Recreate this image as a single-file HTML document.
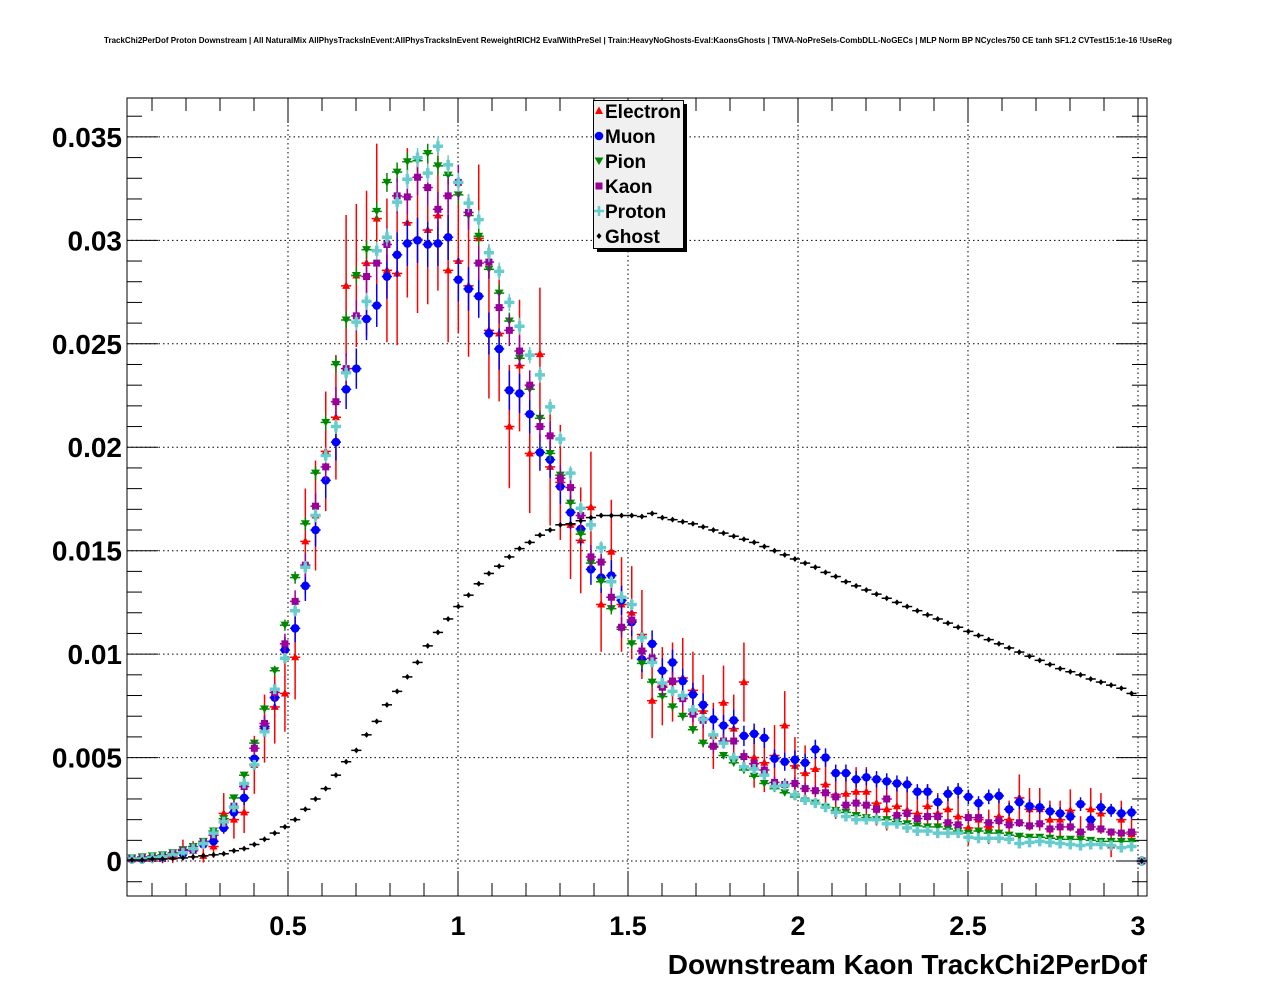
<!DOCTYPE html>
<html><head><meta charset="utf-8"><style>
html,body{margin:0;padding:0;background:#fff;}
svg{display:block;font-family:"Liberation Sans",Arial,sans-serif;}
</style></head><body>
<svg id="chart" width="1276" height="996" viewBox="0 0 1276 996" xmlns="http://www.w3.org/2000/svg">
<rect x="0" y="0" width="1276" height="996" fill="#fff"/>
<text x="638" y="43" text-anchor="middle" font-size="8.1" font-weight="bold" textLength="1068" lengthAdjust="spacingAndGlyphs">TrackChi2PerDof Proton Downstream | All NaturalMix AllPhysTracksInEvent:AllPhysTracksInEvent ReweightRICH2 EvalWithPreSel | Train:HeavyNoGhosts-Eval:KaonsGhosts | TMVA-NoPreSels-CombDLL-NoGECs | MLP Norm BP NCycles750 CE tanh SF1.2 CVTest15:1e-16 !UseReg</text>
<g id="grid"></g>
<g id="axes"></g>
<g id="series"></g>
<rect x="127" y="98" width="1020" height="798" fill="none" stroke="#000" stroke-width="1"/>
<text x="1147" y="974" text-anchor="end" font-size="28" font-weight="bold">Downstream Kaon TrackChi2PerDof</text>
<g id="legend"></g>
</svg>
<script>
// values in units of 1e-3, bin i centred at x = 0.041 + 0.03*i
const binStart = 0.041, binWidth = 0.03;
const electron = [0.1,0.1,0.1,0.1,0.2,0.55,0.5,0.25,0.7,2.3,2.0,2.35,4.65,6.4,7.45,8.1,9.85,15.45,16.7,19.8,21.45,27.8,28.3,28.9,31.05,28.55,28.4,30.85,30.05,30.5,31.2,28.55,29.0,27.8,30.1,25.65,25.5,21.0,23.95,19.7,24.5,19.05,18.3,16.25,15.5,17.1,12.4,14.95,12.4,12.0,10.95,7.75,8.45,8.65,8.85,8.25,7.25,6.05,7.65,6.4,8.65,5.0,4.75,5.1,6.55,4.6,4.25,4.45,3.7,3.2,3.25,3.35,3.35,2.8,2.5,2.65,2.45,2.3,2.65,2.3,2.5,2.15,1.6,2.0,1.65,2.15,2.0,3.05,2.5,2.5,2.0,2.0,2.45,1.4,2.5,2.3,0.75,2.0,1.3,0];
const muon = [0.1,0.1,0.15,0.15,0.35,0.35,0.55,0.8,0.95,1.6,2.35,3.05,4.95,6.5,7.9,10.2,11.25,13.3,16.0,18.4,20.25,22.8,23.8,26.2,26.85,28.25,29.3,29.85,30.0,29.8,29.85,30.15,28.1,27.65,27.3,25.5,24.75,22.75,22.6,21.6,19.75,19.4,18.1,16.85,16.05,14.1,13.7,13.8,12.6,11.55,9.75,10.5,9.2,9.6,8.7,8.05,7.55,6.85,6.55,6.8,6.05,6.15,5.95,4.95,4.8,4.9,4.75,5.4,5.0,4.25,4.25,3.95,4.05,3.95,3.85,3.75,3.7,3.35,3.35,2.85,3.25,3.4,3.1,2.8,3.1,3.15,2.5,2.85,2.65,2.6,2.4,2.3,2.15,2.75,2.0,2.6,2.45,2.3,2.35,0];
const pion = [0.15,0.2,0.25,0.3,0.4,0.55,0.7,0.95,1.45,2.05,3.05,4.15,5.7,7.35,9.2,11.4,13.7,16.3,18.75,21.2,24.0,26.15,28.3,29.55,31.4,32.8,33.3,33.8,33.85,34.2,33.6,33.15,32.2,31.2,30.2,28.6,27.45,26.1,24.3,22.8,21.4,19.7,18.65,17.3,15.8,14.4,13.5,12.2,11.2,10.5,9.55,8.65,7.95,7.45,7.0,6.35,5.7,5.5,5.1,4.75,4.4,4.1,3.75,3.5,3.3,3.1,2.9,2.8,2.6,2.45,2.35,2.2,2.1,2.0,2.0,1.9,1.8,1.7,1.65,1.65,1.55,1.45,1.35,1.45,1.35,1.35,1.25,1.2,1.15,1.15,1.1,1.05,1.05,1.05,1.0,0.95,0.95,0.95,0.95,0];
const kaon = [0.1,0.15,0.15,0.2,0.35,0.5,0.6,0.9,1.25,1.85,2.65,3.6,5.45,6.65,8.15,10.5,12.55,14.3,17.15,19.05,22.2,23.8,26.35,28.25,28.9,29.8,32.15,32.1,33.05,32.55,31.5,32.15,32.8,31.35,28.9,28.95,26.75,25.65,24.65,23.0,21.0,20.55,18.5,18.05,16.7,14.7,14.45,12.75,11.3,11.65,10.15,9.8,8.4,8.7,7.85,7.1,6.8,5.55,5.8,5.8,5.05,4.7,4.4,3.8,3.7,3.75,3.5,3.4,3.3,3.1,2.7,2.8,2.7,2.5,3.0,2.2,2.3,2.05,2.15,2.15,1.85,1.75,2.1,2.1,1.85,1.95,1.75,1.85,1.7,1.8,1.55,1.65,1.65,1.4,1.65,1.55,1.4,1.35,1.4,0];
const proton = [0.1,0.1,0.15,0.2,0.3,0.4,0.6,0.85,1.35,1.9,2.6,3.75,4.65,6.25,8.3,9.8,12.1,14.2,16.7,19.6,21.0,23.6,26.05,27.05,29.5,30.15,31.85,32.95,34.0,33.25,34.55,33.65,32.8,31.8,31.0,29.4,28.5,27.0,25.85,24.45,23.5,21.95,20.4,18.75,17.05,16.25,15.15,13.5,12.75,12.4,10.8,9.6,8.6,8.2,8.0,7.3,6.85,6.1,5.7,5.0,4.55,4.45,4.15,3.6,3.65,3.2,2.95,2.8,2.6,2.35,2.15,2.0,2.0,2.0,1.8,1.8,1.6,1.45,1.45,1.35,1.35,1.35,1.15,1.1,1.1,1.1,1.05,0.85,0.9,0.95,0.9,0.85,0.8,0.75,0.8,0.8,0.75,0.65,0.7,0];
const ghost = [0.05,0.05,0.1,0.1,0.12,0.15,0.2,0.25,0.3,0.35,0.5,0.6,0.8,1.05,1.35,1.65,2.0,2.5,3.0,3.5,4.15,4.8,5.35,6.1,6.75,7.55,8.2,8.9,9.6,10.4,11.05,11.7,12.3,12.85,13.4,13.9,14.25,14.7,15.1,15.4,15.75,16.0,16.25,16.3,16.45,16.6,16.7,16.7,16.7,16.7,16.65,16.8,16.6,16.5,16.4,16.3,16.15,16.0,15.85,15.7,15.55,15.4,15.2,15.0,14.8,14.6,14.4,14.2,13.95,13.75,13.5,13.3,13.1,12.9,12.7,12.5,12.3,12.1,11.9,11.7,11.5,11.3,11.1,10.9,10.7,10.5,10.3,10.1,9.9,9.7,9.5,9.3,9.15,9.0,8.8,8.65,8.5,8.35,8.1,0];
const xTickValues = [0.5,1,1.5,2,2.5,3];
const xTickLabels = ["0.5","1","1.5","2","2.5","3"];
const yTickValues = [0,5,10,15,20,25,30,35];
const yTickLabels = ["0","0.005","0.01","0.015","0.02","0.025","0.03","0.035"];
const legendLabels = ["Electron","Muon","Pion","Kaon","Proton","Ghost"];

const NS = "http://www.w3.org/2000/svg";
const X0 = 127, X1 = 1147, Y0 = 896, Y1 = 98;
const xMin = 0.0265, xMax = 3.0265, yMin = -1.69, yMax = 36.88;
function sx(v){ return X0 + (v - xMin) / (xMax - xMin) * (X1 - X0); }
function sy(v){ return Y0 - (v - yMin) / (yMax - yMin) * (Y0 - Y1); }
function mk(tag, attrs, parent){ const e = document.createElementNS(NS, tag); for (const k in attrs) e.setAttribute(k, attrs[k]); parent.appendChild(e); return e; }

const grid = document.getElementById('grid');
const axes = document.getElementById('axes');
xTickValues.forEach((v, i) => {
  const x = sx(v);
  const g = mk('line', {x1:x, x2:x, y1:Y1, y2:Y0, stroke:'#000', 'stroke-width':1, 'stroke-dasharray':'1.5,3'}, grid);
  
  
  const t = mk('text', {x:x, y:935, 'text-anchor':'middle', 'font-size':27, 'font-weight':'bold'}, axes);
  t.textContent = xTickLabels[i];
  
  
});
for (let k = 1; k <= 30; k++) {
  const v = k * 0.1;
  if (v < xMin || v > xMax) continue;
  const major = (k % 5 === 0);
  const len = major ? 25 : 13;
  const x = sx(v);
  const a = mk('line', {x1:x, x2:x, y1:Y0, y2:Y0 - len, stroke:'#000', 'stroke-width':1}, axes);
  
  
  const b = mk('line', {x1:x, x2:x, y1:Y1, y2:Y1 + len, stroke:'#000', 'stroke-width':1}, axes);
  
  
}
yTickValues.forEach((v, i) => {
  const y = sy(v);
  const g = mk('line', {x1:X0, x2:X1, y1:y, y2:y, stroke:'#000', 'stroke-width':1, 'stroke-dasharray':'1.5,3'}, grid);
  
  
  const t = mk('text', {x:122, y:y + 10, 'text-anchor':'end', 'font-size':28, 'font-weight':'bold'}, axes);
  t.textContent = yTickLabels[i];
  
  
});
for (let k = -1; k <= 36; k++) {
  const major = (k % 5 === 0);
  const len = major ? 31 : 15;
  const y = sy(k);
  if (y > Y0 || y < Y1) continue;
  const a = mk('line', {x1:X0, x2:X0 + len, y1:y, y2:y, stroke:'#000', 'stroke-width':1}, axes);
  
  
  const b = mk('line', {x1:X1, x2:X1 - len, y1:y, y2:y, stroke:'#000', 'stroke-width':1}, axes);
  
  
}

function marker(kind, x, y, color, parent){
  let e;
  if (kind === 'tup') e = mk('polygon', {points:`${x},${y-4.5} ${x-4},${y+3} ${x+4},${y+3}`, fill:color}, parent);
  else if (kind === 'tdn') e = mk('polygon', {points:`${x},${y+4} ${x-4.5},${y-3.5} ${x+4.5},${y-3.5}`, fill:color}, parent);
  else if (kind === 'circ') e = mk('circle', {cx:x, cy:y, r:4.3, fill:color}, parent);
  else if (kind === 'sq') e = mk('rect', {x:x-3.5, y:y-3.5, width:7, height:7, fill:color}, parent);
  else if (kind === 'plus') e = mk('path', {d:`M${x-5},${y}H${x+5}M${x},${y-5}V${y+5}`, stroke:color, 'stroke-width':3.5, fill:'none'}, parent);
  else e = mk('polygon', {points:`${x},${y-3} ${x-2.5},${y} ${x},${y+3} ${x+2.5},${y}`, fill:color}, parent);
  return e;
}
const seriesDefs = [
  {name:'electron', data:electron, color:'#ff0000', kind:'tup', err:0.65},
  {name:'muon', data:muon, color:'#0000ff', kind:'circ', err:0.2},
  {name:'pion', data:pion, color:'#008800', kind:'tdn', err:0.08},
  {name:'kaon', data:kaon, color:'#990099', kind:'sq', err:0.15},
  {name:'proton', data:proton, color:'#66cccc', kind:'plus', err:0.08},
  {name:'ghost', data:ghost, color:'#000000', kind:'dia', err:0.02}
];
const sg = document.getElementById('series');
seriesDefs.forEach(s => {
  const g = mk('g', {}, sg);
  
  
  s.data.forEach((v, i) => {
    const xc = binStart + binWidth * i;
    const x = sx(xc), y = sy(v);
    const e = s.err * Math.sqrt(Math.max(v, 0));
    const hb = mk('line', {x1:sx(xc - binWidth/2), x2:sx(xc + binWidth/2), y1:y, y2:y, stroke:s.color, 'stroke-width':1.5}, g);
    
    
    const vb = mk('line', {x1:x, x2:x, y1:sy(v + e), y2:sy(v - e), stroke:s.color, 'stroke-width':1.5}, g);
    
    
    const m = marker(s.kind, x, y, s.color, g);
    
    
  });
});

const lg = document.getElementById('legend');
const sh = mk('rect', {x:597, y:104, width:90, height:148, fill:'#000'}, lg);


const box = mk('rect', {x:593.5, y:100.5, width:90, height:148, fill:'#f0f0f0', stroke:'#000', 'stroke-width':1}, lg);


seriesDefs.forEach((s, i) => {
  const y = 111 + 25 * i;
  const m = marker(s.kind, 599, y, s.color, lg);
  if (s.kind === 'plus') { m.setAttribute('stroke-width', 2.5); }
  
  
  const t = mk('text', {x:605, y:y + 7, 'font-size':19, 'font-weight':'bold'}, lg);
  t.textContent = legendLabels[i];
  
  
});
</script>
</body></html>
